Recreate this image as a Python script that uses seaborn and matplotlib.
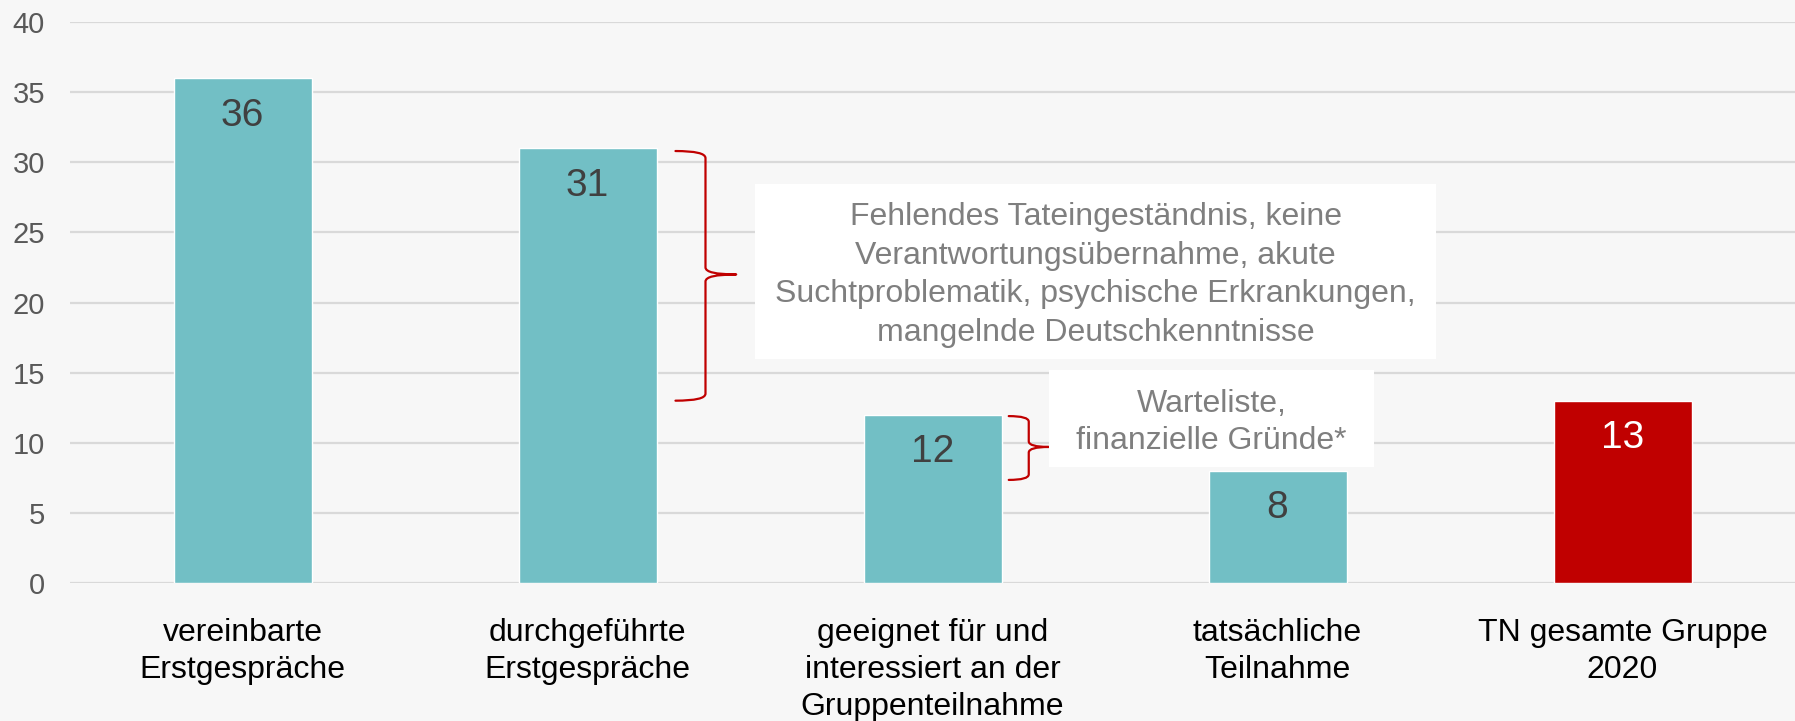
import matplotlib
matplotlib.use("Agg")
import matplotlib.pyplot as plt
from matplotlib.path import Path
from matplotlib.patches import PathPatch, Rectangle
import seaborn as sns

# Data
categories = [
    "vereinbarte\nErstgespräche",
    "durchgeführte\nErstgespräche",
    "geeignet für und\ninteressiert an der\nGruppenteilnahme",
    "tatsächliche\nTeilnahme",
    "TN gesamte Gruppe\n2020",
]
values = [36, 31, 12, 8, 13]
bar_colors = ["#72BFC5", "#72BFC5", "#72BFC5", "#72BFC5", "#C00000"]
label_colors = ["#404040", "#404040", "#404040", "#404040", "#FFFFFF"]
y_ticks = [0, 5, 10, 15, 20, 25, 30, 35, 40]

note_dropouts = ("Fehlendes Tateingeständnis, keine\n"
                 "Verantwortungsübernahme, akute\n"
                 "Suchtproblematik, psychische Erkrankungen,\n"
                 "mangelnde Deutschkenntnisse")
note_waiting = "Warteliste,\nfinanzielle Gründe*"

BG = "#F7F7F7"
GRID = "#D9D9D9"
RED = "#C00000"

sns.set_theme(style="white")
plt.rcParams["font.family"] = ["Liberation Sans", "DejaVu Sans"]

fig = plt.figure(figsize=(17.95, 7.21), dpi=100, facecolor=BG)
ax = fig.add_axes([70 / 1795, 1 - 583 / 721, 1 - 70 / 1795, (583 - 22) / 721])
ax.set_facecolor(BG)

sns.barplot(x=categories, y=values, hue=categories, palette=bar_colors,
            legend=False, width=0.4, saturation=1, ax=ax, zorder=3)

ax.set_xlim(-0.5, 4.5)
ax.set_ylim(0, 40)
ax.set_yticks(y_ticks)
ax.yaxis.grid(True, color=GRID, linewidth=1.6, zorder=0)
ax.set_axisbelow(True)
for s in ax.spines.values():
    s.set_visible(False)
ax.tick_params(axis="y", length=0, pad=18, labelsize=21, labelcolor="#595959")
ax.tick_params(axis="x", length=0, pad=25, labelsize=23, labelcolor="#000000")
for lbl in ax.get_xticklabels():
    lbl.set_linespacing(1.3)
ax.set_xlabel("")
ax.set_ylabel("")

# Value labels inside the top of each bar
for i, (v, c) in enumerate(zip(values, label_colors)):
    ax.annotate(str(v), (i, v), xytext=(0, -27), textcoords="offset points",
                ha="center", va="center", fontsize=28, color=c, zorder=5)


def brace(ax, x_end, x_spine, x_tip, y_top, y_bottom, y_mid, r):
    verts = [
        (x_end, y_top), (x_spine, y_top), (x_spine, y_top - r),
        (x_spine, y_mid + r),
        (x_spine, y_mid), (x_tip, y_mid),
        (x_spine, y_mid), (x_spine, y_mid - r),
        (x_spine, y_bottom + r),
        (x_spine, y_bottom), (x_end, y_bottom),
    ]
    codes = [Path.MOVETO, Path.CURVE3, Path.CURVE3,
             Path.LINETO,
             Path.CURVE3, Path.CURVE3,
             Path.CURVE3, Path.CURVE3,
             Path.LINETO,
             Path.CURVE3, Path.CURVE3]
    ax.add_patch(PathPatch(Path(verts, codes), facecolor="none",
                           edgecolor=RED, linewidth=1.6, zorder=4,
                           capstyle="round", joinstyle="round"))


# Brace from "durchgeführte" (31) down to the 13 level
brace(ax, 1.255, 1.342, 1.431, 30.8, 13.0, 22.0, 0.5)
# Brace from "geeignet" (12) down toward "tatsächliche Teilnahme"
brace(ax, 2.221, 2.279, 2.337, 11.9, 7.35, 9.7, 0.4)

# Annotation boxes
ax.add_patch(Rectangle((1.486, 15.97), 3.459 - 1.486, 28.44 - 15.97,
                       facecolor="white", edgecolor="none", zorder=4))
ax.text((1.486 + 3.459) / 2, 21.95, note_dropouts, ha="center", va="center",
        fontsize=23, color="#7F7F7F", linespacing=1.37, zorder=5)

ax.add_patch(Rectangle((2.337, 8.27), 3.28 - 2.337, 15.18 - 8.27,
                       facecolor="white", edgecolor="none", zorder=4))
ax.text((2.337 + 3.28) / 2, 11.47, note_waiting, ha="center", va="center",
        fontsize=23, color="#7F7F7F", linespacing=1.3, zorder=5)

fig.savefig("out.png", dpi=100, facecolor=BG)
